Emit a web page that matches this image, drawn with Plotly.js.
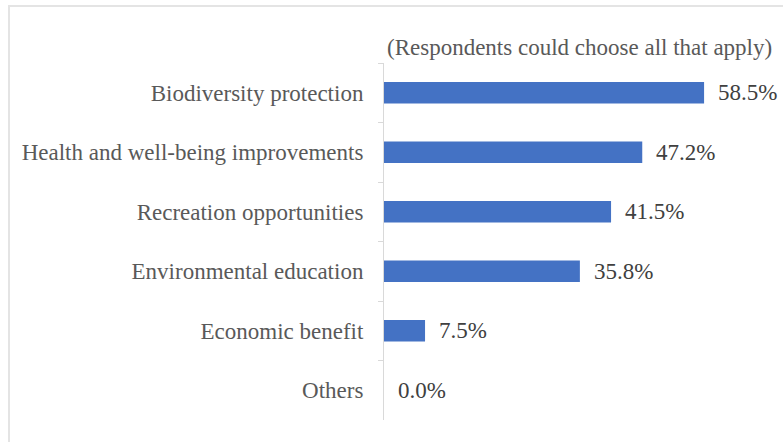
<!DOCTYPE html>
<html>
<head>
<meta charset="utf-8">
<script src="https://cdn.plot.ly/plotly-3.0.1.min.js"></script>
<style>
  html, body { margin: 0; padding: 0; background: #fff; }
  #wrap { position: relative; width: 783px; height: 442px; overflow: hidden; }
  #frame { position: absolute; left: 8px; top: 5px; width: 800px; height: 460px; border: 2px solid #e4e4e4; box-sizing: border-box; pointer-events: none; }
  #chart { position: absolute; left: 0; top: 0; width: 783px; height: 442px; }
</style>
</head>
<body>
<div id="wrap">
  <div id="chart"></div>
  <div id="frame"></div>
</div>
<script>
const categories = [
  "Biodiversity protection",
  "Health and well-being improvements",
  "Recreation opportunities",
  "Environmental education",
  "Economic benefit",
  "Others"
];
const values = [58.5, 47.2, 41.5, 35.8, 7.5, 0.0];
const valueLabels = ["58.5%", "47.2%", "41.5%", "35.8%", "7.5%", "0.0%"];
const noteText = "(Respondents could choose all that apply)";

const font = "'Liberation Serif', 'Times New Roman', serif";
const fs = 23;

const trace = {
  type: "bar",
  orientation: "h",
  x: values,
  y: categories,
  marker: { color: "#4472C4" },
  hoverinfo: "skip"
};

const annotations = values.map((v, i) => ({
  x: v, y: categories[i], xref: "x", yref: "y",
  text: valueLabels[i], showarrow: false,
  xanchor: "left", yanchor: "middle", xshift: 12,
  font: { family: font, size: fs, color: "#404040" }
}));
annotations.push({
  x: 1, y: 1, xref: "paper", yref: "paper",
  text: noteText, showarrow: false,
  xanchor: "right", yanchor: "bottom", yshift: 1, xshift: 7,
  font: { family: font, size: fs, color: "#595959" }
});

const layout = {
  width: 783, height: 442,
  margin: { l: 384, r: 16, t: 63, b: 22 },
  paper_bgcolor: "rgba(0,0,0,0)",
  plot_bgcolor: "#fff",
  font: { family: font, size: fs, color: "#595959" },
  bargap: 0.64,
  showlegend: false,
  xaxis: { range: [0, 70], visible: false, fixedrange: true },
  yaxis: {
    type: "category",
    categoryorder: "array",
    categoryarray: categories,
    autorange: "reversed",
    showline: true, linecolor: "#d9d9d9", linewidth: 1,
    ticks: "outside", tickson: "boundaries", ticklen: 5, tickcolor: "#d9d9d9",
    ticklabelstandoff: 15,
    showgrid: false, zeroline: false,
    tickfont: { family: font, size: fs, color: "#595959" }
  },
  annotations: annotations
};

Plotly.newPlot("chart", [trace], layout, { displayModeBar: false, staticPlot: true });
</script>
</body>
</html>
